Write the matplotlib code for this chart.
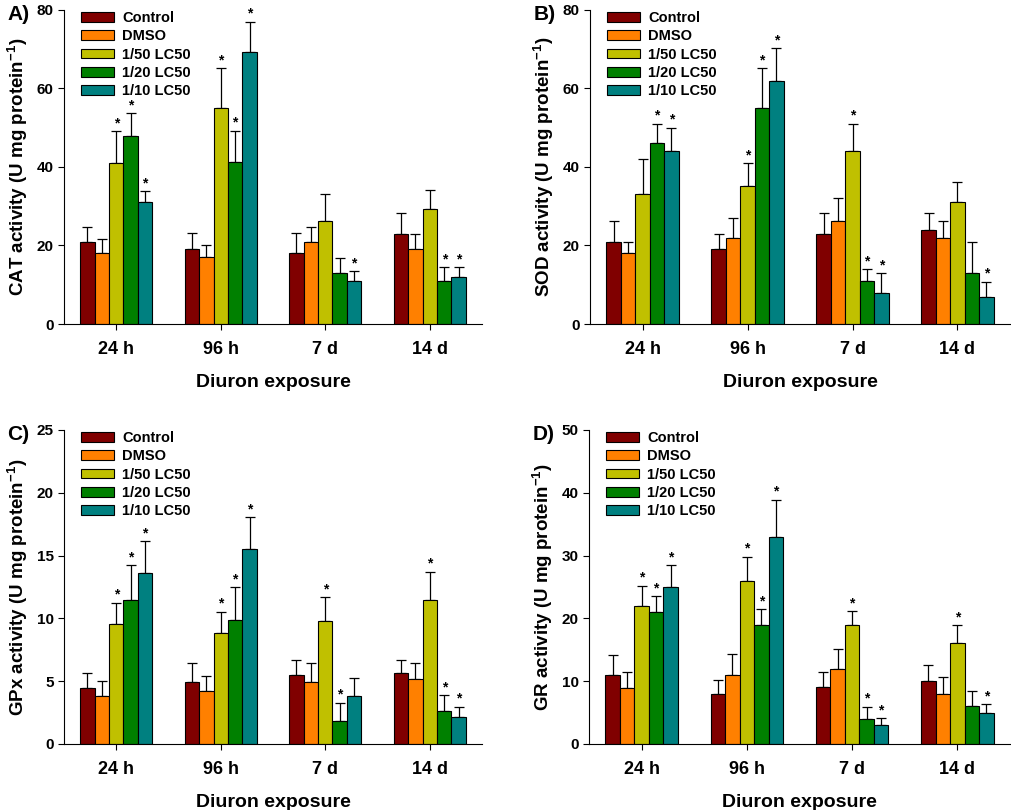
import matplotlib
matplotlib.use("Agg")
import matplotlib.pyplot as plt
import numpy as np

plt.rcParams['font.family'] = ['Liberation Sans', 'DejaVu Sans']
plt.rcParams['font.weight'] = 'bold'
plt.rcParams['mathtext.fontset'] = 'custom'
plt.rcParams['mathtext.rm'] = 'Liberation Sans'
plt.rcParams['mathtext.bf'] = 'Liberation Sans:bold'

groups = ["24 h", "96 h", "7 d", "14 d"]
series = ["Control", "DMSO", "1/50 LC50", "1/20 LC50", "1/10 LC50"]
colors = ["#800000", "#FF8000", "#C0C000", "#008000", "#008080"]

# CAT
cat_mean = [[21, 19, 18, 23], [18, 17, 21, 19], [41, 55, 26.3, 29.2], [48, 41.3, 12.9, 10.9], [31.1, 69.3, 10.9, 12]]
cat_err = [[3.6, 4.1, 5.1, 5.3], [3.7, 3.2, 3.6, 3.9], [8.1, 10.2, 6.8, 4.9], [5.7, 7.9, 3.9, 3.6], [2.7, 7.7, 2.5, 2.5]]
cat_star = [[0, 0, 0, 0], [0, 0, 0, 0], [1, 1, 0, 0], [1, 1, 0, 1], [1, 1, 1, 1]]

# SOD
sod_mean = [[21, 19, 23, 24], [18, 22, 26.3, 22], [33.2, 35.1, 44, 31.1], [46, 55, 10.9, 12.9], [44, 62, 8, 7]]
sod_err = [[5.3, 3.9, 5.2, 4.2], [3, 5.1, 5.8, 4.3], [8.8, 5.9, 7, 5], [5, 10.2, 3.1, 7.9], [6, 8.2, 4.9, 3.8]]
sod_star = [[0, 0, 0, 0], [0, 0, 0, 0], [0, 1, 1, 0], [1, 1, 1, 0], [1, 1, 1, 1]]

# GPx
gpx_mean = [[4.46, 4.94, 5.47, 5.63], [3.83, 4.22, 4.94, 5.15], [9.54, 8.82, 9.83, 11.45], [11.45, 9.88, 1.81, 2.6], [13.63, 15.52, 3.83, 2.13]]
gpx_err = [[1.17, 1.49, 1.25, 1.09], [1.17, 1.23, 1.49, 1.28], [1.72, 1.7, 1.86, 2.26], [2.79, 2.58, 1.48, 1.28], [2.5, 2.52, 1.46, 0.85]]
gpx_star = [[0, 0, 0, 0], [0, 0, 0, 0], [1, 1, 1, 1], [1, 1, 1, 1], [1, 1, 0, 1]]

# GR
gr_mean = [[11, 8, 9, 10], [8.9, 11, 12, 8], [22, 26, 19, 16], [21, 19, 4, 6], [25, 33, 3, 5]]
gr_err = [[3.2, 2.15, 2.5, 2.5], [2.6, 3.4, 3.1, 2.7], [3.2, 3.8, 2.1, 2.9], [2.5, 2.5, 1.95, 2.45], [3.5, 5.9, 1.1, 1.3]]
gr_star = [[0, 0, 0, 0], [0, 0, 0, 0], [1, 1, 1, 1], [1, 1, 1, 0], [1, 1, 1, 1]]

panels = [
    ("A)", "CAT", cat_mean, cat_err, cat_star, 80, 20, [0.0633, 0.600, 0.4135, 0.3877]),
    ("B)", "SOD", sod_mean, sod_err, sod_star, 80, 20, [0.5836, 0.600, 0.4154, 0.3877]),
    ("C)", "GPx", gpx_mean, gpx_err, gpx_star, 25, 5, [0.0633, 0.0815, 0.4135, 0.3877]),
    ("D)", "GR", gr_mean, gr_err, gr_star, 50, 10, [0.5826, 0.0815, 0.4164, 0.3877]),
]

fig = plt.figure(figsize=(10.11, 8.10), dpi=100)
x = np.arange(len(groups))
bw = 0.138

for label, enz, mean, err, star, ymax, ystep, pos in panels:
    ax = fig.add_axes(pos)
    for i, s in enumerate(series):
        xs = x + (i - 2) * bw
        ax.bar(xs, mean[i], width=bw, color=colors[i], edgecolor="black",
               linewidth=0.8, label=s, zorder=2)
        ax.errorbar(xs, mean[i], yerr=[np.zeros(4), err[i]], fmt="none",
                    ecolor="black", elinewidth=0.9, capsize=3.5, capthick=0.9, zorder=1)
        for j in range(4):
            if star[i][j]:
                ax.text(xs[j], mean[i][j] + err[i][j] + ymax * 0.003, "*",
                        ha="center", va="bottom", fontsize=10, fontweight="bold")
    ax.set_xlim(-0.5, 3.5)
    ax.set_ylim(0, ymax)
    ax.set_yticks(np.arange(0, ymax + 0.01, ystep))
    ax.set_xticks(x)
    ax.set_xticklabels(groups, fontsize=13, fontweight="bold")
    ax.tick_params(axis="y", labelsize=11, direction="out", length=4, width=0.8)
    ax.tick_params(axis="x", direction="out", length=4, width=0.8, pad=8)
    for t in ax.get_yticklabels():
        t.set_fontweight("bold")
    ax.spines["top"].set_visible(False)
    ax.spines["right"].set_visible(False)
    ax.spines["left"].set_linewidth(0.8)
    ax.spines["bottom"].set_linewidth(0.8)
    ax.set_xlabel("Diuron exposure", fontsize=14, fontweight="bold", labelpad=12)
    ax.set_ylabel(enz + r" activity (U mg protein$^{\mathbf{-1}}$)", fontsize=13.5,
                  fontweight="bold", labelpad=5)
    ax.legend(loc="upper left", bbox_to_anchor=(0.02, 1.025), frameon=False,
              prop={"size": 10.5, "weight": "bold"}, handlelength=2.25,
              handleheight=0.65, labelspacing=0.3, handletextpad=0.55,
              borderaxespad=0.2)
    ax.text(-0.135, 0.985, label, transform=ax.transAxes, fontsize=15,
            fontweight="bold", ha="left", va="center")

fig.savefig("out.png", dpi=100)
